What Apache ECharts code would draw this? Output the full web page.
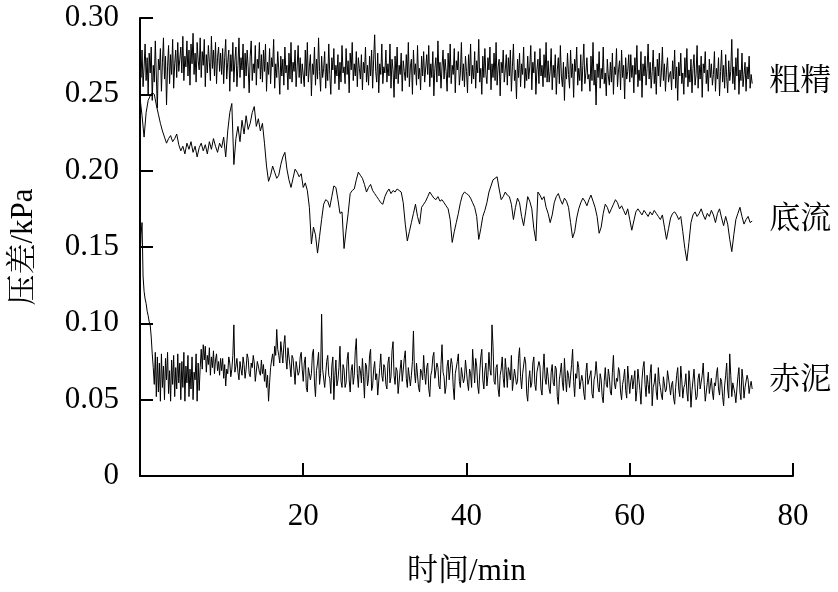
<!DOCTYPE html>
<html>
<head>
<meta charset="utf-8">
<script src="https://cdn.jsdelivr.net/npm/echarts@6/dist/echarts.min.js"></script>
<style>html,body{margin:0;padding:0;background:#fff;}#chart{width:838px;height:592px;}</style>
</head>
<body>
<div id="chart"></div>
<script>
// recording window (min); samples are evenly spaced over it
var timeStart = 0;
var timeEnd = 75;

var seriesNames = ['粗精', '底流', '赤泥'];
var xTicks = [0, 20, 40, 60, 80];
var yTicks = [0, 0.05, 0.10, 0.15, 0.20, 0.25, 0.30];

// 粗精 pressure difference, kPa (0.125 min spacing)
var coarse = [
0.272,0.261,0.279,0.255,0.268,0.283,0.259,0.274,0.250,0.277,0.264,0.281,0.246,0.269,0.258,0.285,0.262,0.241,0.273,0.266,
0.280,0.252,0.271,0.287,0.260,0.275,0.243,0.268,0.282,0.257,0.276,0.263,0.286,0.254,0.270,0.279,0.261,0.284,0.265,0.273,
0.281,0.264,0.288,0.259,0.275,0.268,0.285,0.262,0.279,0.256,0.283,0.270,0.290,0.263,0.277,0.258,0.284,0.272,0.266,0.287,
0.261,0.278,0.269,0.286,0.255,0.276,0.264,0.282,0.271,0.259,0.288,0.267,0.279,0.262,0.284,0.257,0.274,0.281,0.265,0.277,
0.263,0.280,0.257,0.274,0.286,0.260,0.271,0.279,0.252,0.276,0.265,0.284,0.258,0.272,0.281,0.255,0.269,0.287,0.261,0.274,
0.266,0.283,0.254,0.277,0.262,0.279,0.268,0.251,0.275,0.285,0.259,0.270,0.264,0.282,0.256,0.273,0.267,0.284,0.260,0.276,
0.258,0.279,0.265,0.283,0.252,0.271,0.263,0.280,0.257,0.274,0.268,0.286,0.254,0.270,0.261,0.278,0.266,0.250,0.275,0.262,
0.273,0.256,0.281,0.264,0.269,0.253,0.277,0.260,0.284,0.258,0.271,0.265,0.279,0.255,0.268,0.282,0.261,0.274,0.257,0.270,
0.271,0.255,0.279,0.262,0.284,0.258,0.268,0.276,0.249,0.270,0.263,0.281,0.256,0.273,0.260,0.287,0.265,0.252,0.275,0.261,
0.267,0.278,0.254,0.270,0.259,0.283,0.263,0.250,0.274,0.266,0.280,0.257,0.269,0.262,0.276,0.253,0.271,0.258,0.282,0.264,
0.268,0.257,0.280,0.263,0.272,0.251,0.277,0.266,0.284,0.259,0.270,0.262,0.278,0.255,0.274,0.267,0.260,0.276,0.253,0.271,
0.264,0.281,0.258,0.269,0.256,0.275,0.262,0.279,0.254,0.273,0.289,0.265,0.258,0.277,0.251,0.270,0.263,0.283,0.257,0.268,
0.264,0.279,0.258,0.270,0.262,0.283,0.254,0.273,0.266,0.248,0.275,0.260,0.281,0.257,0.269,0.263,0.277,0.252,0.272,0.265,
0.259,0.276,0.261,0.284,0.255,0.268,0.273,0.250,0.279,0.263,0.270,0.256,0.282,0.260,0.267,0.253,0.275,0.262,0.278,0.258,
0.259,0.276,0.263,0.282,0.255,0.270,0.261,0.278,0.249,0.267,0.274,0.258,0.285,0.262,0.271,0.254,0.268,0.279,0.260,0.273,
0.265,0.252,0.277,0.261,0.283,0.257,0.269,0.263,0.280,0.251,0.272,0.266,0.278,0.256,0.264,0.284,0.259,0.270,0.255,0.275,
0.265,0.251,0.276,0.262,0.283,0.257,0.269,0.260,0.278,0.254,0.272,0.264,0.286,0.258,0.267,0.250,0.275,0.261,0.280,0.263,
0.257,0.274,0.266,0.281,0.253,0.270,0.261,0.277,0.259,0.284,0.256,0.268,0.273,0.249,0.271,0.264,0.279,0.258,0.266,0.276,
0.256,0.274,0.262,0.279,0.252,0.268,0.283,0.259,0.266,0.247,0.273,0.261,0.277,0.255,0.270,0.263,0.281,0.254,0.267,0.259,
0.275,0.260,0.268,0.282,0.253,0.271,0.264,0.278,0.250,0.266,0.273,0.257,0.280,0.262,0.269,0.255,0.276,0.261,0.284,0.258,
0.272,0.258,0.265,0.280,0.253,0.269,0.261,0.276,0.250,0.266,0.274,0.257,0.282,0.262,0.255,0.271,0.246,0.268,0.260,0.277,
0.263,0.254,0.279,0.261,0.270,0.248,0.273,0.265,0.281,0.256,0.267,0.259,0.276,0.252,0.269,0.283,0.257,0.264,0.274,0.260,
0.263,0.252,0.275,0.259,0.284,0.256,0.266,0.243,0.270,0.261,0.278,0.254,0.267,0.260,0.281,0.257,0.264,0.249,0.273,0.262,
0.256,0.271,0.258,0.277,0.250,0.268,0.263,0.280,0.255,0.266,0.272,0.253,0.279,0.261,0.269,0.247,0.274,0.260,0.265,0.276,
0.258,0.276,0.261,0.269,0.251,0.274,0.263,0.282,0.255,0.266,0.259,0.278,0.248,0.270,0.262,0.275,0.256,0.267,0.283,0.260,
0.271,0.254,0.265,0.279,0.257,0.268,0.250,0.273,0.262,0.277,0.255,0.264,0.281,0.259,0.270,0.252,0.266,0.274,0.258,0.263,
0.265,0.253,0.272,0.260,0.279,0.254,0.268,0.246,0.271,0.262,0.277,0.257,0.264,0.250,0.274,0.261,0.280,0.255,0.266,0.258,
0.273,0.251,0.267,0.276,0.256,0.263,0.282,0.254,0.269,0.260,0.275,0.248,0.270,0.264,0.278,0.257,0.266,0.252,0.273,0.261,
0.270,0.256,0.263,0.278,0.252,0.267,0.260,0.274,0.249,0.265,0.279,0.258,0.269,0.254,0.276,0.261,0.251,0.272,0.259,0.265,
0.286,0.257,0.268,0.253,0.274,0.262,0.280,0.250,0.266,0.259,0.277,0.255,0.263,0.271,0.252,0.268,0.260,0.275,0.254,0.263,
0.257
];

// 底流 pressure difference, kPa (0.25 min spacing)
var underflow = [
0.248,0.236,0.222,0.238,0.246,0.249,0.251,0.250,0.243,0.237,0.231,0.226,0.222,0.218,0.221,0.223,0.219,0.221,0.224,0.217,
0.213,0.216,0.211,0.218,0.214,0.219,0.212,0.216,0.209,0.215,0.218,0.213,0.217,0.211,0.219,0.214,0.221,0.216,0.212,0.218,
0.215,0.222,0.209,0.226,0.238,0.244,0.204,0.221,0.229,0.219,0.233,0.224,0.236,0.227,0.231,0.238,0.242,0.229,0.234,0.226,
0.231,0.218,0.203,0.193,0.197,0.203,0.199,0.195,0.197,0.204,0.209,0.212,0.201,0.194,0.189,0.195,0.201,0.199,0.196,0.198,
0.189,0.192,0.187,0.176,0.152,0.163,0.158,0.146,0.157,0.168,0.178,0.181,0.180,0.176,0.183,0.190,0.189,0.181,0.172,0.173,
0.149,0.161,0.172,0.185,0.187,0.188,0.194,0.199,0.197,0.195,0.191,0.186,0.189,0.191,0.187,0.185,0.183,0.181,0.179,0.178,
0.183,0.186,0.188,0.185,0.187,0.186,0.188,0.187,0.186,0.179,0.165,0.154,0.160,0.166,0.172,0.178,0.170,0.165,0.176,0.178,
0.180,0.183,0.186,0.184,0.182,0.181,0.183,0.180,0.181,0.179,0.177,0.175,0.168,0.153,0.160,0.166,0.172,0.179,0.184,0.186,
0.185,0.184,0.182,0.179,0.176,0.170,0.155,0.162,0.170,0.174,0.179,0.186,0.190,0.194,0.195,0.196,0.188,0.181,0.183,0.186,
0.184,0.183,0.178,0.168,0.176,0.182,0.179,0.170,0.164,0.173,0.183,0.180,0.175,0.162,0.154,0.186,0.184,0.181,0.183,0.176,
0.172,0.166,0.171,0.179,0.183,0.185,0.181,0.178,0.182,0.180,0.176,0.166,0.156,0.160,0.169,0.175,0.179,0.182,0.180,0.177,
0.181,0.184,0.180,0.176,0.170,0.159,0.163,0.172,0.178,0.176,0.172,0.175,0.178,0.181,0.179,0.175,0.177,0.174,0.171,0.175,
0.168,0.161,0.167,0.173,0.175,0.173,0.171,0.174,0.172,0.170,0.173,0.171,0.174,0.172,0.170,0.168,0.171,0.163,0.155,0.162,
0.169,0.172,0.173,0.171,0.168,0.170,0.160,0.149,0.141,0.153,0.166,0.171,0.173,0.170,0.172,0.175,0.171,0.168,0.172,0.170,
0.174,0.171,0.166,0.172,0.175,0.169,0.164,0.170,0.165,0.155,0.147,0.158,0.168,0.172,0.176,0.170,0.165,0.168,0.170,0.166,
0.167
];

// 赤泥 pressure difference, kPa (0.125 min spacing)
var redMud = [
0.140,0.158,0.166,0.131,0.121,0.116,0.113,0.108,0.105,0.101,0.099,0.091,0.080,0.071,0.060,0.081,0.052,0.078,0.055,0.074,
0.049,0.080,0.058,0.072,0.050,0.077,0.063,0.081,0.054,0.069,0.049,0.076,0.060,0.079,0.052,0.071,0.057,0.080,0.061,0.074,
0.050,0.075,0.058,0.081,0.049,0.072,0.061,0.079,0.052,0.070,0.057,0.078,0.050,0.068,0.063,0.080,0.049,0.074,0.056,0.071,
0.083,0.070,0.086,0.076,0.085,0.068,0.079,0.073,0.084,0.066,0.078,0.071,0.082,0.067,0.076,0.080,0.069,0.075,0.066,0.077,
0.069,0.077,0.064,0.073,0.059,0.070,0.067,0.078,0.074,0.065,0.070,0.079,0.099,0.068,0.072,0.077,0.068,0.063,0.075,0.070,
0.066,0.078,0.073,0.064,0.070,0.080,0.077,0.067,0.065,0.074,0.071,0.079,0.074,0.062,0.063,0.075,0.072,0.068,0.066,0.076,
0.067,0.073,0.062,0.070,0.058,0.066,0.049,0.061,0.071,0.076,0.080,0.072,0.085,0.079,0.096,0.083,0.079,0.074,0.088,0.081,
0.074,0.086,0.092,0.077,0.070,0.084,0.083,0.072,0.065,0.079,0.077,0.069,0.060,0.075,0.074,0.066,0.068,0.078,0.081,0.070,
0.062,0.074,0.078,0.058,0.055,0.071,0.071,0.063,0.067,0.080,0.083,0.061,0.052,0.069,0.074,0.081,0.060,0.067,0.106,0.070,
0.069,0.058,0.057,0.075,0.079,0.066,0.064,0.054,0.072,0.078,0.050,0.066,0.076,0.059,0.063,0.071,0.085,0.062,0.058,0.073,
0.070,0.058,0.061,0.076,0.081,0.063,0.055,0.069,0.073,0.060,0.066,0.082,0.090,0.067,0.058,0.072,0.069,0.061,0.077,0.065,
0.051,0.074,0.072,0.059,0.064,0.079,0.083,0.056,0.059,0.070,0.075,0.063,0.067,0.053,0.054,0.071,0.080,0.066,0.062,0.073,
0.071,0.060,0.057,0.074,0.078,0.061,0.065,0.082,0.088,0.066,0.060,0.071,0.069,0.054,0.053,0.070,0.076,0.062,0.063,0.077,
0.082,0.064,0.058,0.071,0.070,0.059,0.066,0.075,0.095,0.068,0.061,0.074,0.073,0.058,0.055,0.070,0.068,0.063,0.079,0.067,
0.060,0.071,0.074,0.057,0.052,0.066,0.069,0.078,0.081,0.064,0.063,0.074,0.071,0.059,0.057,0.073,0.086,0.068,0.065,0.054,
0.059,0.072,0.076,0.063,0.062,0.077,0.073,0.058,0.050,0.067,0.068,0.075,0.080,0.062,0.058,0.071,0.070,0.061,0.064,0.076,
0.075,0.061,0.056,0.070,0.067,0.058,0.083,0.072,0.061,0.077,0.072,0.059,0.054,0.068,0.078,0.083,0.063,0.057,0.069,0.074,
0.059,0.066,0.081,0.070,0.066,0.099,0.085,0.062,0.060,0.071,0.073,0.057,0.052,0.066,0.070,0.078,0.064,0.058,0.077,0.069,
0.058,0.071,0.068,0.063,0.079,0.056,0.055,0.070,0.071,0.060,0.062,0.077,0.084,0.065,0.057,0.067,0.066,0.078,0.074,0.054,
0.049,0.063,0.069,0.058,0.061,0.074,0.078,0.060,0.056,0.068,0.067,0.075,0.072,0.057,0.053,0.069,0.080,0.064,0.060,0.071,
0.065,0.057,0.054,0.068,0.073,0.061,0.059,0.072,0.070,0.052,0.047,0.063,0.068,0.074,0.061,0.056,0.077,0.064,0.055,0.069,
0.066,0.058,0.058,0.073,0.083,0.062,0.052,0.067,0.064,0.075,0.071,0.057,0.056,0.066,0.062,0.054,0.050,0.068,0.074,0.060,
0.059,0.066,0.069,0.054,0.051,0.063,0.066,0.075,0.076,0.058,0.055,0.067,0.063,0.052,0.048,0.062,0.071,0.060,0.058,0.070,
0.065,0.055,0.053,0.068,0.079,0.061,0.057,0.064,0.062,0.071,0.068,0.055,0.050,0.060,0.064,0.070,0.056,0.051,0.072,0.063,
0.054,0.062,0.066,0.057,0.058,0.069,0.049,0.056,0.070,0.063,0.056,0.047,0.063,0.071,0.075,0.060,0.052,0.066,0.060,0.054,
0.067,0.073,0.046,0.058,0.061,0.067,0.055,0.050,0.071,0.062,0.058,0.053,0.050,0.065,0.064,0.055,0.057,0.069,0.068,0.059,
0.053,0.060,0.062,0.051,0.047,0.058,0.066,0.071,0.057,0.052,0.072,0.063,0.051,0.058,0.060,0.067,0.055,0.049,0.069,0.061,
0.045,0.056,0.063,0.070,0.058,0.050,0.052,0.064,0.067,0.057,0.056,0.066,0.074,0.060,0.049,0.055,0.061,0.068,0.054,0.059,
0.064,0.055,0.050,0.061,0.059,0.067,0.071,0.057,0.053,0.064,0.062,0.052,0.046,0.059,0.066,0.074,0.057,0.051,0.080,0.066,
0.052,0.061,0.060,0.054,0.048,0.057,0.065,0.071,0.055,0.050,0.070,0.063,0.051,0.058,0.058,0.066,0.063,0.054,0.059,0.062,
0.057
];

function pairs(values) {
  var out = [];
  var step = (timeEnd - timeStart) / (values.length - 1);
  for (var i = 0; i < values.length; i++) out.push([timeStart + i * step, values[i]]);
  return out;
}

var FONT = "'Times New Roman', 'Liberation Serif', 'Noto Serif CJK SC', 'Noto Sans CJK SC', serif";
var FS = 31;
var chart = echarts.init(document.getElementById('chart'), null, {renderer: 'canvas'});

function makeSeries(name, values, offsetY) {
  return {
    name: name,
    type: 'line',
    data: pairs(values),
    showSymbol: false,
    symbol: 'none',
    lineStyle: {color: '#000', width: 1},
    endLabel: {
      show: true,
      formatter: name,
      distance: 17,
      offset: [0, offsetY],
      color: '#000',
      fontSize: FS,
      fontFamily: FONT
    },
    emphasis: {disabled: true}
  };
}

chart.setOption({
  animation: false,
  backgroundColor: '#fff',
  grid: {left: 139, right: 45, top: 18, bottom: 115},
  xAxis: {
    type: 'value',
    min: xTicks[0], max: xTicks[xTicks.length - 1], interval: xTicks[1] - xTicks[0],
    name: '时间/min', nameLocation: 'middle', nameGap: 80,
    nameTextStyle: {color: '#000', fontSize: FS, fontFamily: FONT},
    axisLine: {lineStyle: {color: '#000', width: 2}},
    axisTick: {inside: true, length: 13, lineStyle: {color: '#000', width: 2}},
    axisLabel: {showMinLabel: false, color: '#000', fontSize: FS, fontFamily: FONT, margin: 25},
    splitLine: {show: false}
  },
  yAxis: {
    type: 'value',
    min: yTicks[0], max: yTicks[yTicks.length - 1], interval: yTicks[1] - yTicks[0],
    name: '压差/kPa', nameLocation: 'middle', nameGap: 101,
    nameTextStyle: {color: '#000', fontSize: FS, fontFamily: FONT},
    axisLine: {lineStyle: {color: '#000', width: 2}},
    axisTick: {inside: true, length: 13, lineStyle: {color: '#000', width: 2}},
    axisLabel: {
      color: '#000', fontSize: FS, fontFamily: FONT, margin: 21,
      formatter: function (v) { return v === 0 ? '0' : v.toFixed(2); }
    },
    splitLine: {show: false}
  },
  series: [
    makeSeries(seriesNames[0], coarse, -2),
    makeSeries(seriesNames[1], underflow, -1),
    makeSeries(seriesNames[2], redMud, -8)
  ]
});
</script>
</body>
</html>
